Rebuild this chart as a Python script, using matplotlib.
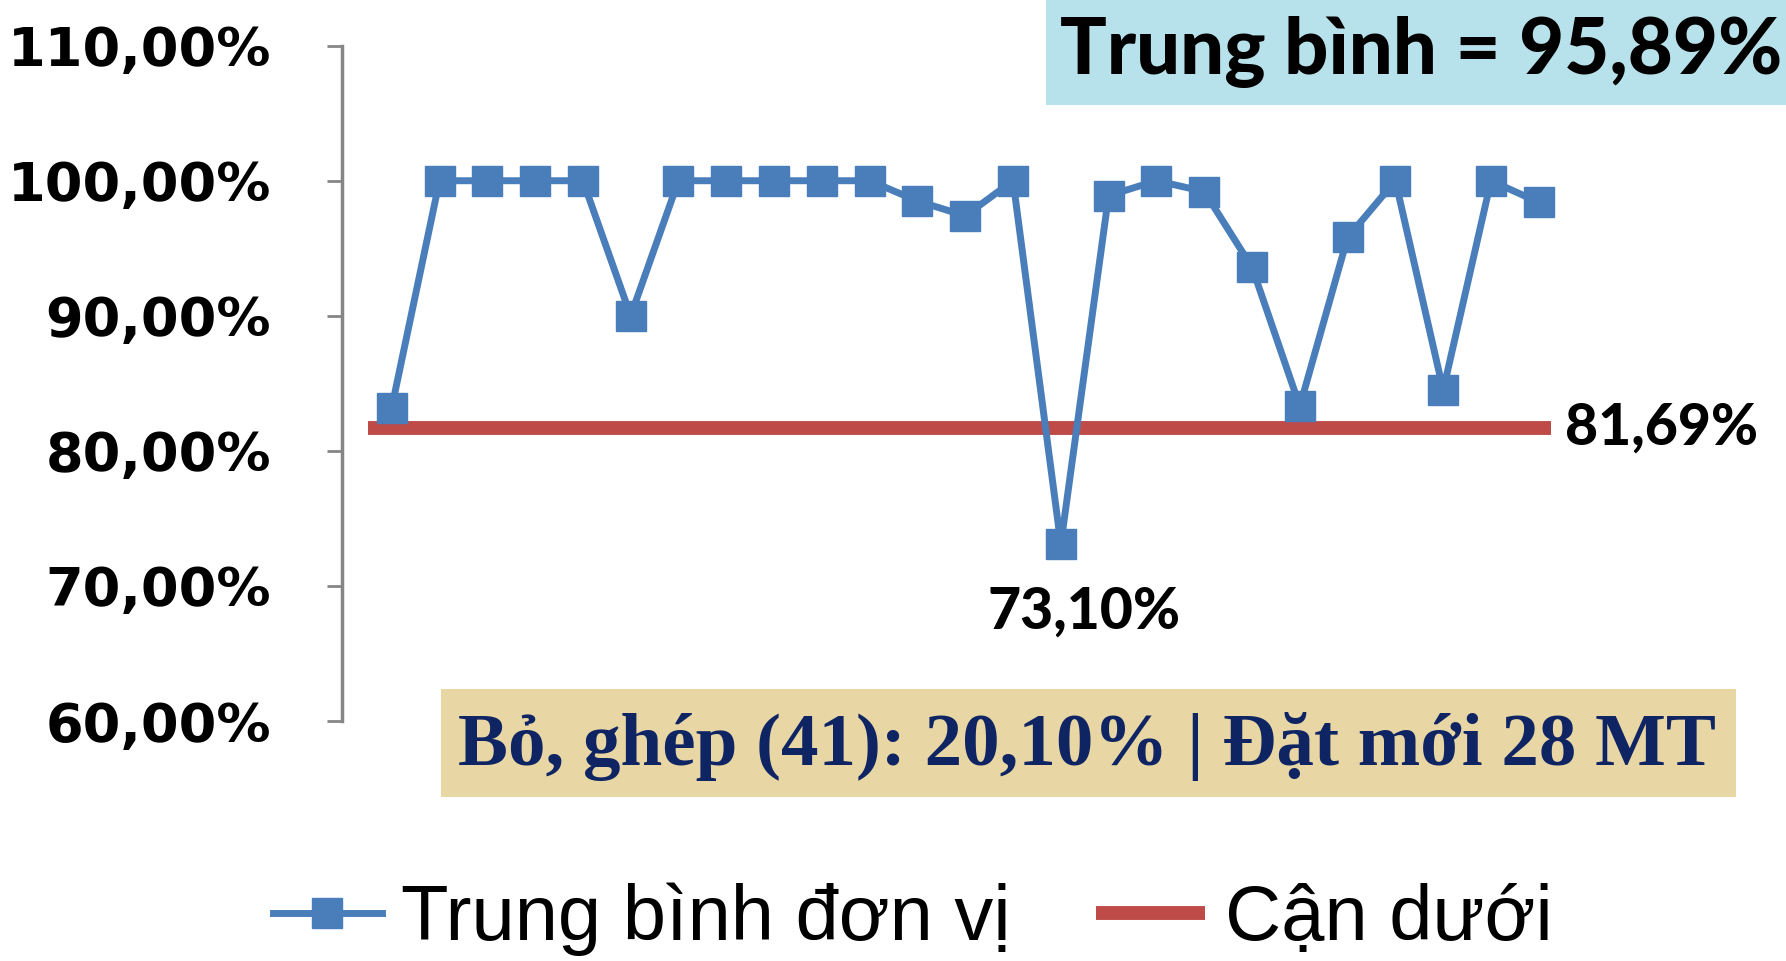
import matplotlib
matplotlib.use("Agg")
import matplotlib.pyplot as plt
from matplotlib.patches import Rectangle
from matplotlib.ticker import FuncFormatter

# ty le trung binh tung don vi (%)
unit_avg = [83.2, 100, 100, 100, 100, 90.0, 100, 100, 100, 100, 100, 98.5, 97.4, 100,
            73.1, 98.9, 100, 99.2, 93.6, 83.3, 95.8, 100, 84.5, 100, 98.4]
lower_bound = 81.69
overall_avg = "95,89%"
min_label = "73,10%"
y_ticks = [60, 70, 80, 90, 100, 110]

blue = "#4a7ebb"
red = "#be4b48"

fig = plt.figure(figsize=(17.86, 9.61), dpi=100)
ax = fig.add_axes([0.1915, 0.2497, 0.684, 0.7028])

x = list(range(len(unit_avg)))
ax.plot(x, unit_avg, color=blue, lw=5, marker="s", ms=21, label="Trung bình đơn vị", zorder=3)
ax.hlines(lower_bound, -0.5, len(unit_avg) - 0.75, color=red, lw=10, label="Cận dưới", zorder=2)

ax.set_xlim(-1.04, len(unit_avg) - 0.48)
ax.set_ylim(60, 110)
ax.set_yticks(y_ticks)
ax.yaxis.set_major_formatter(FuncFormatter(lambda v, p: f"{v:.2f}%".replace(".", ",")))
ax.tick_params(axis="y", direction="out", length=11, width=2, color="#868686", pad=40,
               labelsize=39)
for lab in ax.get_yticklabels():
    lab.set_fontweight("bold")
ax.set_xticks([])
for s in ["top", "right", "bottom"]:
    ax.spines[s].set_visible(False)
ax.spines["left"].set_color("#868686")
ax.spines["left"].set_linewidth(2.5)

# nhan gia tri
ax.text(len(unit_avg) - 0.45, lower_bound, "81,69%", ha="left", va="center",
        fontsize=41, fontweight="black", family="Lato")
min_i = unit_avg.index(min(unit_avg))
ax.annotate(min_label, (min_i, unit_avg[min_i]), xytext=(17, -49), textcoords="offset points",
            ha="center", va="center", fontsize=41, fontweight="black", family="Lato")

# hop tren: trung binh
fig.patches.append(Rectangle((0.5857, 0.8907), 0.42, 0.12, transform=fig.transFigure,
                             facecolor="#b8e2eb", edgecolor="none", zorder=0))
fig.text(0.796, 0.946, "Trung bình = " + overall_avg, ha="center", va="center",
         fontsize=56, fontweight="black", family="Lato")

# hop duoi
fig.patches.append(Rectangle((0.247, 0.1707), 0.725, 0.1123, transform=fig.transFigure,
                             facecolor="#e8d6a4", edgecolor="none", zorder=0))
fig.text(0.6085, 0.2237, "Bỏ, ghép (41): 20,10% | Đặt mới 28 MT", ha="center", va="center",
         fontsize=54, fontweight="bold", family="Liberation Serif", color="#0f2563")

leg = fig.legend(loc="center", bbox_to_anchor=(0.511, 0.043), ncol=2, frameon=False,
                 handlelength=1.4, columnspacing=1.1, handletextpad=0.25,
                 prop={"family": "Liberation Sans", "size": 56})

fig.savefig("out.png", dpi=100)
